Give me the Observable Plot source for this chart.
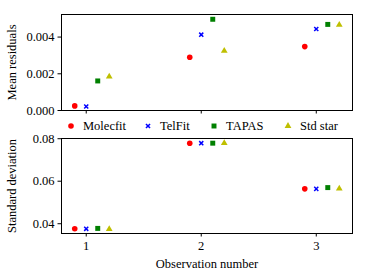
<!DOCTYPE html>
<html><head>
<meta charset="utf-8">
<script src="https://cdn.jsdelivr.net/npm/d3@7"></script>
<script src="https://cdn.jsdelivr.net/npm/@observablehq/plot@0.6"></script>
<style>
body{margin:0;background:#fff;}
#wrap{position:relative;width:367px;height:278px;font-family:"Liberation Serif",serif;color:#000;overflow:hidden;}
#topPanel,#bottomPanel,#legend{position:absolute;left:0;}
#topPanel{top:0;} #bottomPanel{top:128px;} #legend{top:118px;width:367px;height:16px;}
.item{position:absolute;top:0;height:16px;display:flex;align-items:center;font-size:12.5px;white-space:nowrap;}
.item svg{display:block;}
svg text{font-family:"Liberation Serif",serif;}
</style></head><body>
<div id="wrap"><div id="topPanel"></div><div id="legend"></div><div id="bottomPanel"></div></div>
<script>
// ---- data ----
const observations = [1, 2, 3];
const methods = ["Molecfit", "TelFit", "TAPAS", "Std star"];
const offsets = [-0.1, 0, 0.1, 0.2];
const colors = ["#ff0000", "#0000ff", "#008000", "#bfbf00"];
const symbols = ["circle", "times", "square", "triangle"];

const meanMolecfit = [0.00025, 0.00290, 0.00348];
const meanTelFit   = [0.00022, 0.00413, 0.00444];
const meanTAPAS    = [0.00161, 0.00497, 0.00469];
const meanStdStar  = [0.00185, 0.00325, 0.00467];

const sdMolecfit = [0.0376, 0.0779, 0.0564];
const sdTelFit   = [0.0376, 0.0779, 0.0564];
const sdTAPAS    = [0.0378, 0.0779, 0.0570];
const sdStdStar  = [0.0375, 0.0779, 0.0565];

const meanTicks = [0, 0.002, 0.004];
const sdTicks = [0.04, 0.06, 0.08];

const meanSeries = [meanMolecfit, meanTelFit, meanTAPAS, meanStdStar];
const sdSeries = [sdMolecfit, sdTelFit, sdTAPAS, sdStdStar];

function rows(series) {
  return methods.map((m, i) => observations.map((o, j) => ({method: m, x: o + offsets[i], y: series[i][j]})));
}

const font = "Liberation Serif";
const fs = 12.5;
const sizes = {circle: 2.8, times: 2.0, square: 2.8, triangle: 2.5};

function dotMarks(series) {
  return rows(series).map((data, i) => {
    const s = symbols[i];
    const opts = {x: "x", y: "y", symbol: s, r: sizes[s]};
    if (s === "times") { opts.stroke = colors[i]; opts.strokeWidth = 1.5; opts.fill = "none"; }
    else { opts.fill = colors[i]; opts.stroke = "none"; }
    return Plot.dot(data, opts);
  });
}

const xDomain = [0.785, 3.315];
const txt = {fontFamily: font, fontSize: fs, fontVariant: "normal"};

const topChart = Plot.plot({
  width: 367, height: 122,
  marginLeft: 61, marginRight: 15, marginTop: 14, marginBottom: 12,
  style: {fontFamily: font, fontSize: fs + "px", color: "#000", background: "transparent"},
  x: {domain: xDomain},
  y: {domain: [0, 0.00523]},
  marks: [
    Plot.axisX({ticks: observations, tickFormat: () => "", tickSize: 3.5, label: null}),
    Plot.axisY({...txt, ticks: meanTicks, tickFormat: d3.format(".3f"), tickSize: 3.5, tickPadding: 3.5,
      label: "Mean residuals", labelAnchor: "center", labelArrow: "none", labelOffset: 54}),
    ...dotMarks(meanSeries),
    Plot.frame({stroke: "#000", strokeWidth: 1})
  ]
});
document.getElementById("topPanel").append(topChart);

const bottomChart = Plot.plot({
  width: 367, height: 150,
  marginLeft: 61, marginRight: 15, marginTop: 10, marginBottom: 45,
  style: {fontFamily: font, fontSize: fs + "px", color: "#000", background: "transparent"},
  x: {domain: xDomain},
  y: {domain: [0.0354, 0.0801]},
  marks: [
    Plot.axisX({...txt, ticks: observations, tickFormat: d3.format("d"), tickSize: 3.5, tickPadding: 4,
      label: "Observation number", labelAnchor: "center", labelArrow: "none", labelOffset: 34}),
    Plot.axisY({...txt, ticks: sdTicks, tickFormat: d3.format(".2f"), tickSize: 3.5, tickPadding: 3.5,
      label: "Standard deviation", labelAnchor: "center", labelArrow: "none", labelOffset: 54}),
    ...dotMarks(sdSeries),
    Plot.frame({stroke: "#000", strokeWidth: 1})
  ]
});
document.getElementById("bottomPanel").append(bottomChart);

// ---- legend ----
const legendX = [65, 142, 208, 282];
const symbolTypes = {circle: d3.symbolCircle, times: d3.symbolX || d3.symbolTimes, square: d3.symbolSquare, triangle: d3.symbolTriangle};
const legend = document.getElementById("legend");
methods.forEach((m, i) => {
  const item = document.createElement("div");
  item.className = "item";
  item.style.left = legendX[i] + "px";
  const s = symbols[i];
  const r = sizes[s];
  const sym = d3.symbol(symbolTypes[s], Math.PI * r * r)();
  const fill = s === "times" ? "none" : colors[i];
  const stroke = s === "times" ? colors[i] : "none";
  item.innerHTML = `<svg width="12" height="16"><path transform="translate(6,8)" d="${sym}" fill="${fill}" stroke="${stroke}" stroke-width="1.5"/></svg><span style="margin-left:6px">${m}</span>`;
  legend.append(item);
});
</script>
</body></html>
